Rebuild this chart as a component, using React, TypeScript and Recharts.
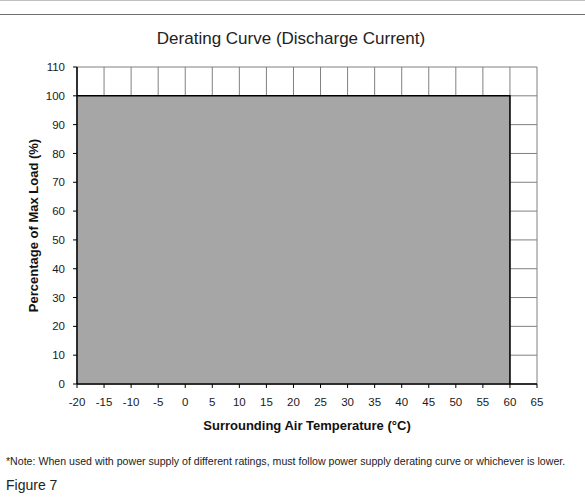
import { Area, CartesianGrid, ComposedChart, XAxis, YAxis, Label } from "recharts";

const temps = [-20, 60, 60];
const loads = [100, 100, 0];
const xTicks = [-20, -15, -10, -5, 0, 5, 10, 15, 20, 25, 30, 35, 40, 45, 50, 55, 60, 65];
const yTicks = [0, 10, 20, 30, 40, 50, 60, 70, 80, 90, 100, 110];

const font = "'Liberation Sans', Arial, sans-serif";
const blank = () => "";

export default function App() {
  const dados = temps.map((t, i) => ({ t, v: loads[i] }));

  return (
    <div
      style={{
        position: "absolute",
        left: 0,
        top: 0,
        width: 585,
        height: 499,
        background: "#fff",
        fontFamily: font,
        color: "#222",
        overflow: "hidden",
      }}
    >
      <div style={{ position: "absolute", left: 0, top: 0, width: 585, height: 1, background: "#c0c0c0" }} />
      <div style={{ position: "absolute", left: 0, top: 14, width: 585, height: 1, background: "#707070" }} />
      <div
        style={{
          position: "absolute",
          left: 0,
          top: 29,
          width: 582,
          textAlign: "center",
          fontSize: 17,
        }}
      >
        Derating Curve (Discharge Current)
      </div>
      <ComposedChart
        width={585}
        height={499}
        data={dados}
        margin={{ top: 67, right: 48, bottom: 85, left: 37 }}
        style={{ position: "absolute", left: 0, top: 0 }}
      >
        <CartesianGrid stroke="#808080" strokeWidth={1} />
        <XAxis
          dataKey="t"
          type="number"
          domain={[-20, 65]}
          ticks={xTicks}
          interval={0}
          height={30}
          tickSize={4}
          tickMargin={10}
          axisLine={{ stroke: "#000", strokeWidth: 1.5 }}
          tickLine={{ stroke: "#000" }}
          tick={{ fill: "#1a1a1a", fontSize: 11.5, fontFamily: font }}
        >
          <Label
            value="Surrounding Air Temperature (°C)"
            position="insideBottom"
            offset={-16}
            style={{ fontSize: 13, fontWeight: "bold", fill: "#111", fontFamily: font }}
          />
        </XAxis>
        <XAxis
          xAxisId="in"
          dataKey="t"
          type="number"
          domain={[-20, 65]}
          ticks={xTicks}
          interval={0}
          mirror
          height={0}
          tickSize={4}
          axisLine={false}
          tickLine={{ stroke: "#000" }}
          tickFormatter={blank}
        />
        <YAxis
          type="number"
          domain={[0, 110]}
          ticks={yTicks}
          interval={0}
          width={40}
          tickSize={4}
          tickMargin={8}
          axisLine={{ stroke: "#000", strokeWidth: 1.5 }}
          tickLine={{ stroke: "#000" }}
          tick={{ fill: "#1a1a1a", fontSize: 11.5, fontFamily: font }}
        >
          <Label
            value="Percentage of Max Load (%)"
            angle={-90}
            position="insideLeft"
            offset={-4}
            style={{ fontSize: 13, fontWeight: "bold", fill: "#111", fontFamily: font, textAnchor: "middle" }}
          />
        </YAxis>
        <YAxis
          yAxisId="in"
          type="number"
          domain={[0, 110]}
          ticks={yTicks}
          interval={0}
          mirror
          width={0}
          tickSize={4}
          axisLine={false}
          tickLine={{ stroke: "#000" }}
          tickFormatter={blank}
        />
        <Area
          type="linear"
          dataKey="v"
          stroke="#000"
          strokeWidth={1.5}
          fill="#a6a6a6"
          fillOpacity={1}
          isAnimationActive={false}
          dot={false}
          activeDot={false}
        />
      </ComposedChart>
      <div style={{ position: "absolute", left: 6, top: 455, fontSize: 10.6, color: "#222", whiteSpace: "nowrap" }}>
        *Note: When used with power supply of different ratings, must follow power supply derating curve or whichever is lower.
      </div>
      <div style={{ position: "absolute", left: 6, top: 477, fontSize: 14, color: "#222" }}>Figure 7</div>
    </div>
  );
}
